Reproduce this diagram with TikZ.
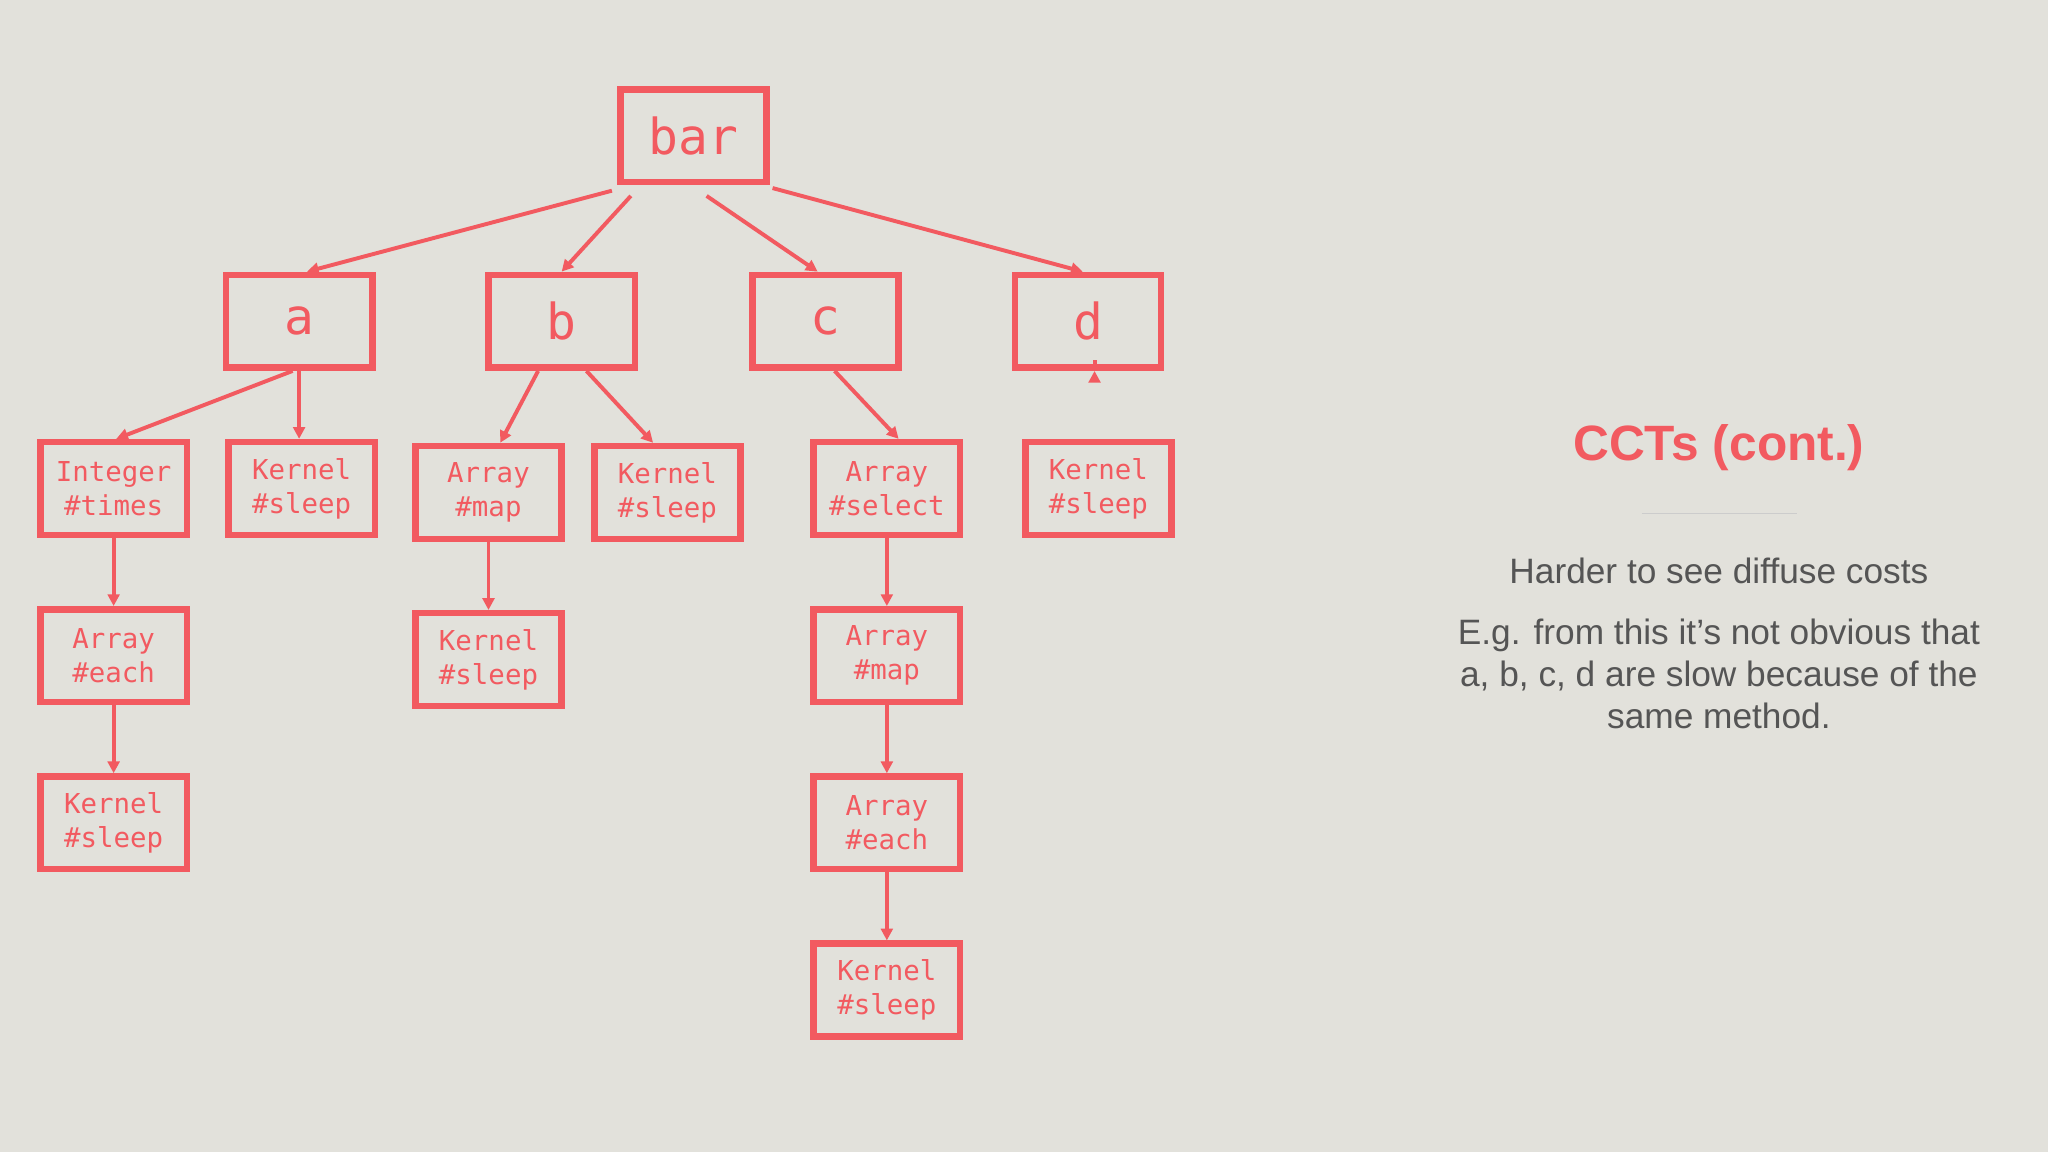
\documentclass[tikz,border=0pt]{standalone}
\usepackage{fontspec}
\setmainfont{Liberation Sans}
\setmonofont{DejaVu Sans Mono}
\usetikzlibrary{arrows.meta,calc}
\definecolor{rd}{HTML}{F25A60}
\definecolor{bg}{HTML}{E2E1DB}
\definecolor{gt}{HTML}{555555}
\tikzset{
 box/.style={draw=rd,line width=5pt,text=rd,minimum width=112pt,minimum height=71pt,inner sep=0pt,align=center,font=\ttfamily\fontsize{21}{26}\selectfont},
 big/.style={box,font=\ttfamily\fontsize{38}{40}\selectfont},
 ed/.style={draw=rd,line width=3pt,-{Triangle[length=9pt,width=9pt]}}
}
\begin{document}
\begin{tikzpicture}[x=1pt,y=-1pt]
\fill[bg] (0,0) rectangle (1568,882);
\node[big] (bar) at (531,104) {bar};
\node[big] (a) at (229,246) {a};
\node[big] (b) at (430,246) {b};
\node[big] (c) at (632,246) {c};
\node[big] (d) at (833,246) {d};
\node[box] (it) at (87,374) {Integer\\\#times};
\node[box] (ka) at (231,374) {Kernel\\\#sleep};
\node[box] (bm) at (374,377) {Array\\\#map};
\node[box] (kb) at (511,377) {Kernel\\\#sleep};
\node[box] (cs) at (679,374) {Array\\\#select};
\node[box] (kd) at (841,374) {Kernel\\\#sleep};
\node[box] (ae) at (87,502) {Array\\\#each};
\node[box] (ak) at (87,630) {Kernel\\\#sleep};
\node[box] (bk) at (374,505) {Kernel\\\#sleep};
\node[box] (cm) at (679,502) {Array\\\#map};
\node[box] (ce) at (679,630) {Array\\\#each};
\node[box] (ck) at (679,758) {Kernel\\\#sleep};
\draw[ed] ($(bar.south west)+(-4,4)$) -- ($(a.north)+(6,0)$);
\draw[ed] ($(bar.south)+(-48,8)$) -- (b.north);
\draw[ed] ($(bar.south)+(10,8)$) -- ($(c.north)+(-6,0)$);
\draw[ed] ($(bar.south east)+(2,2)$) -- ($(d.north)+(-4,0)$);
\draw[ed] ($(a.south)+(-5,0)$) -- ($(it.north)+(2,0)$);
\draw[ed] (a.south) -- (a.south|-ka.north);
\draw[ed] ($(b.south)+(-18,0)$) -- ($(bm.north)+(9,0)$);
\draw[ed] ($(b.south)+(19,0)$) -- ($(kb.north)+(-11,0)$);
\draw[ed] ($(c.south)+(7,0)$) -- ($(cs.north)+(9,0)$);
\draw[ed] ($(d.south)+(5,0)$) -- ($(d.south)+(5,0)$|-kd.north);
\draw[ed] (it) -- (ae);
\draw[ed] (ae) -- (ak);
\draw[ed] (bm) -- (bk);
\draw[ed] (cs) -- (cm);
\draw[ed] (cm) -- (ce);
\draw[ed] (ce) -- (ck);
\node[text=rd,font=\bfseries\fontsize{38}{40}\selectfont] (t) at (1316,343) {CCTs (cont.)};
\draw[gray!40,line width=0.8pt] (1257,393) -- (1376,393);
\node[text=gt,font=\fontsize{27}{32}\selectfont] (h) at (1316,437) {Harder to see diffuse costs};
\node[text=gt,align=center,font=\fontsize{27}{32}\selectfont] (e) at (1316,516) {E.g. from this it’s not obvious that\\a, b, c, d are slow because of the\\same method.};
\end{tikzpicture}
\end{document}
